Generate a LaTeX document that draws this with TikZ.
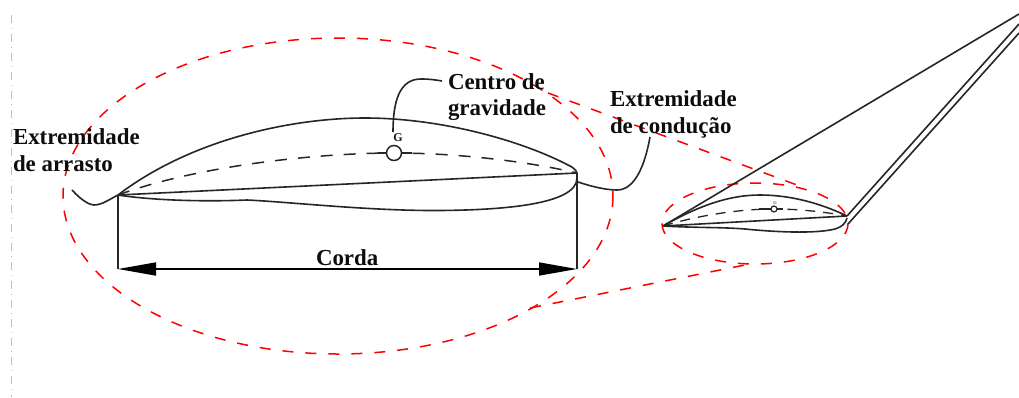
\documentclass[tikz,border=0pt]{standalone}
\usepackage{fontspec}
\setmainfont{Liberation Serif}
\usetikzlibrary{arrows.meta}
\tikzset{
  px/.style={x=1pt,y=-1pt},
  blk/.style={draw=black!85,line width=1.6pt,line join=round},
  reddash/.style={draw=red,line width=1.5pt,dash pattern=on 11pt off 12pt},
  camber/.style={draw=black!85,line width=1.5pt,dash pattern=on 12pt off 11pt},
  lbl/.style={font=\fontsize{22.9}{27}\selectfont\bfseries,text=black!95,anchor=base west,inner sep=0pt,outer sep=0pt},
  cgbig/.style={circle,draw=black!85,fill=white,line width=1.5pt,minimum size=15pt,inner sep=0pt},
  cgsmall/.style={circle,draw=black!85,fill=white,line width=1.2pt,minimum size=6pt,inner sep=0pt},
}
\begin{document}
\begin{tikzpicture}[px]
\useasboundingbox (0,0) rectangle (1019,397);
\fill[white] (0,0) rectangle (1019,397);
\draw[black!25,line width=0.7pt,dash pattern=on 8pt off 5pt on 1pt off 5pt] (11,15) -- (11,397);

% named points
\coordinate (le) at (118,195);
\coordinate (te) at (577,173);
\coordinate (fl) at (118,269);
\coordinate (fr) at (577,269);
\coordinate (sle) at (663,226);
\coordinate (ste) at (847,216);

% red ellipses and zoom lines
\draw[reddash] (338,196) ellipse [x radius=275,y radius=158];
\draw[reddash] (755,223.5) ellipse [x radius=93,y radius=40.5];
\coordinate (za) at (548,93);
\coordinate (zb) at (797,185);
\coordinate (zc) at (530,308);
\coordinate (zd) at (755,263);
\draw[reddash] (za) -- (zb);
\draw[reddash] (zc) -- (zd);

% large airfoil
\draw[blk] (le) .. controls (190,140) and (290,118) .. (365,118) .. controls (440,118) and (520,140) .. (568,165) .. controls (573,167) and (576,170) .. (te);
\draw[blk] (le) -- (te);
\draw[blk] (le) .. controls (150,200) and (200,202) .. (247,200) .. controls (290,202) and (370,211) .. (440,210.5) .. controls (500,210) and (577,205) .. (577,178) -- (te);
\draw[camber] (le) .. controls (200,165) and (320,153) .. (394,153) .. controls (460,153) and (530,162) .. (te);
\draw[blk] (378,153) -- (412,153);
\node[cgbig] (cg) at (394,153) {};
\node[font=\fontsize{12}{12}\selectfont\bfseries,text=black!90,inner sep=0pt] (glbl) at (398,138) {G};

% tail and nose curves
\coordinate (tailend) at (72,190);
\draw[blk] (tailend) .. controls (82,201) and (90,205) .. (94,205) .. controls (102,205) and (110,199) .. (le);

% labels
\node[lbl] (arrasto) at (13,144) {Extremidade};
\node[lbl] (arrasto2) at (13,171) {de arrasto};
\node[lbl] (centro) at (448,89) {Centro de};
\node[lbl] (grav) at (448,115) {gravidade};
\node[lbl] (cond) at (610,106) {Extremidade};
\node[lbl] (cond2) at (610,133) {de condução};
\node[lbl] (corda) at (316,265) {Corda};

\coordinate (gtop) at (393,132);
\draw[blk] (gtop) .. controls (393,100) and (400,79) .. (421,79) .. controls (430,79) and (436,80) .. (442,81);
\coordinate (nstart) at (578,182);
\coordinate (nend) at (650,137);
\draw[blk] (nstart) .. controls (590,186) and (605,190) .. (617,190) .. controls (635,190) and (645,165) .. (nend);

% chord dimension
\draw[blk] (le) -- (fl);
\draw[blk] (577,178) -- (fr);
\draw[line width=1.5pt,draw=black,{Triangle[length=38pt,width=13pt,fill=black]}-{Triangle[length=38pt,width=13pt,fill=black]}] (fl) -- (fr);

% wing
\draw[blk] (sle) -- (1019,14);
\draw[blk] (ste) -- (1019,24);
\draw[blk] (848,224) -- (1019,33);

% small airfoil
\draw[blk] (sle) .. controls (700,205) and (730,195) .. (760,195) .. controls (790,195) and (820,203) .. (ste);
\draw[blk] (sle) -- (ste);
\draw[blk] (sle) .. controls (700,228) and (720,227) .. (745,229) .. controls (775,232) and (815,234) .. (835,229) .. controls (842,227) and (846,223) .. (847,218);
\draw[camber,line width=1.3pt,dash pattern=on 10pt off 8pt] (sle) .. controls (700,215) and (740,209) .. (774,209) .. controls (800,209) and (825,212) .. (ste);
\draw[blk,line width=1.3pt] (759,209) -- (783,209);
\node[cgsmall] (scg) at (774,209) {};
\node[font=\fontsize{4.5}{5}\selectfont\bfseries,text=black!70,inner sep=0pt] (sg) at (775,203) {G};
\end{tikzpicture}
\end{document}
